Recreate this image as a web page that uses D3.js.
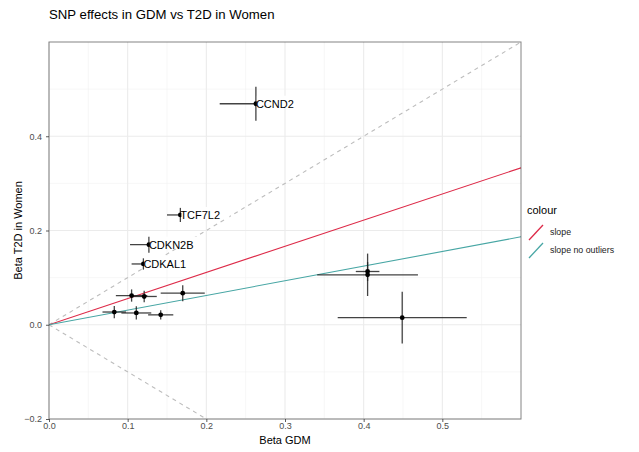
<!DOCTYPE html>
<html>
<head>
<meta charset="utf-8">
<script src="https://cdn.jsdelivr.net/npm/d3@7"></script>
<style>
  body { margin: 0; background: #fff; }
  text { font-family: "Liberation Sans", Arial, sans-serif; }
</style>
</head>
<body>
<svg id="chart"></svg>
<script>
(() => {
// SNP estimates (beta GDM, beta T2D in women) with standard errors
let genes  = ['CCND2', 'TCF7L2', 'CDKN2B', 'CDKAL1', '', '', '', '', '', '', '', '', ''];
let betaX  = [0.263, 0.167, 0.127, 0.120, 0.105, 0.121, 0.170, 0.083, 0.111, 0.142, 0.405, 0.405, 0.449];
let seX    = [0.046, 0.017, 0.024, 0.015, 0.020, 0.016, 0.028, 0.015, 0.019, 0.016, 0.015, 0.064, 0.082];
let betaY  = [0.469, 0.233, 0.170, 0.129, 0.062, 0.060, 0.067, 0.027, 0.025, 0.021, 0.113, 0.106, 0.015];
let seY    = [0.036, 0.015, 0.017, 0.012, 0.013, 0.012, 0.017, 0.013, 0.014, 0.010, 0.020, 0.045, 0.055];

let slopeNames  = ['slope', 'slope no outliers'];
let slopeValues = [0.555, 0.311];
let slopeColors = ['#dd2a48', '#47a6a4'];

let xTicks = [0, 0.1, 0.2, 0.3, 0.4, 0.5];
let yTicks = [-0.2, 0, 0.2, 0.4];

let svgWidth = 639,
    svgHeight = 452,
    left = 49, right = 521, top = 42, bottom = 419;

let svg = d3.select('#chart')
    .attr('width', svgWidth)
    .attr('height', svgHeight);

let xScale = d3.scaleLinear().domain([0, 0.6]).range([left, right]);
let yScale = d3.scaleLinear().domain([-0.2, 0.6]).range([bottom, top]);

svg.append('clipPath').attr('id', 'panel')
  .append('rect')
    .attr('x', left).attr('y', top)
    .attr('width', right - left).attr('height', bottom - top);

// grid
let grid = svg.append('g');
d3.range(0.05, 0.6, 0.1).forEach(v => grid.append('line')
    .attr('x1', xScale(v)).attr('x2', xScale(v)).attr('y1', top).attr('y2', bottom)
    .attr('stroke', '#f2f2f2').attr('stroke-width', 0.6));
[-0.1, 0.1, 0.3, 0.5].forEach(v => grid.append('line')
    .attr('y1', yScale(v)).attr('y2', yScale(v)).attr('x1', left).attr('x2', right)
    .attr('stroke', '#f2f2f2').attr('stroke-width', 0.6));
xTicks.forEach(v => grid.append('line')
    .attr('x1', xScale(v)).attr('x2', xScale(v)).attr('y1', top).attr('y2', bottom)
    .attr('stroke', '#ebebeb').attr('stroke-width', 1.1));
yTicks.forEach(v => grid.append('line')
    .attr('y1', yScale(v)).attr('y2', yScale(v)).attr('x1', left).attr('x2', right)
    .attr('stroke', '#ebebeb').attr('stroke-width', 1.1));

let panel = svg.append('g').attr('clip-path', 'url(#panel)');

// reference lines y = x and y = -x
[1, -1].forEach(s => panel.append('line')
    .attr('x1', xScale(0)).attr('y1', yScale(0))
    .attr('x2', xScale(0.6)).attr('y2', yScale(0.6 * s))
    .attr('stroke', '#bdbdbd').attr('stroke-width', 1.1)
    .attr('stroke-dasharray', '4,4'));

// slope lines
slopeValues.forEach((b, i) => panel.append('line')
    .attr('x1', xScale(0)).attr('y1', yScale(0))
    .attr('x2', xScale(0.6)).attr('y2', yScale(0.6 * b))
    .attr('stroke', slopeColors[i]).attr('stroke-width', 1.1));

let idx = d3.range(betaX.length);

// error bars
panel.selectAll('.hbar').data(idx).enter().append('line')
    .attr('x1', i => xScale(betaX[i] - seX[i])).attr('x2', i => xScale(betaX[i] + seX[i]))
    .attr('y1', i => yScale(betaY[i])).attr('y2', i => yScale(betaY[i]))
    .attr('stroke', '#222').attr('stroke-opacity', 0.85).attr('stroke-width', 1.3);
panel.selectAll('.vbar').data(idx).enter().append('line')
    .attr('x1', i => xScale(betaX[i])).attr('x2', i => xScale(betaX[i]))
    .attr('y1', i => yScale(betaY[i] - seY[i])).attr('y2', i => yScale(betaY[i] + seY[i]))
    .attr('stroke', '#222').attr('stroke-opacity', 0.85).attr('stroke-width', 1.3);

panel.selectAll('circle').data(idx).enter().append('circle')
    .attr('cx', i => xScale(betaX[i])).attr('cy', i => yScale(betaY[i]))
    .attr('r', 2.4).attr('fill', '#000');

// labels with white box
let labelled = idx.filter(i => genes[i]);
let lab = panel.selectAll('.lab').data(labelled).enter().append('g');
lab.append('rect')
    .attr('x', i => xScale(betaX[i]) + 1)
    .attr('y', i => yScale(betaY[i]) - 8)
    .attr('width', i => genes[i].length * 8)
    .attr('height', 12)
    .attr('fill', '#fff');
lab.append('text')
    .attr('x', i => xScale(betaX[i]))
    .attr('y', i => yScale(betaY[i]) + 1)
    .attr('font-size', 11)
    .attr('fill', '#000')
    .attr('dominant-baseline', 'middle')
    .text(i => genes[i]);

// panel border
svg.append('rect')
    .attr('x', left).attr('y', top)
    .attr('width', right - left).attr('height', bottom - top)
    .attr('fill', 'none').attr('stroke', '#333').attr('stroke-opacity', 0.6);

// axes
let xAxis = svg.append('g')
    .attr('transform', `translate(0,${bottom})`)
    .call(d3.axisBottom(xScale).tickValues(xTicks).tickFormat(d3.format('.1f')).tickSize(3));
let yAxis = svg.append('g')
    .attr('transform', `translate(${left},0)`)
    .call(d3.axisLeft(yScale).tickValues(yTicks).tickFormat(d3.format('.1f')).tickSize(3));
[xAxis, yAxis].forEach(a => {
  a.select('.domain').remove();
  a.selectAll('.tick line').attr('stroke', '#333').attr('stroke-opacity', 0.8);
  a.selectAll('.tick text').attr('fill', '#4d4d4d').attr('font-size', 9)
    .attr('font-family', '"Liberation Sans", Arial, sans-serif');
});
xAxis.selectAll('.tick text').attr('y', 4);
yAxis.selectAll('.tick text').attr('dx', '-0.1em');

svg.append('text')
    .attr('x', (left + right) / 2).attr('y', 444)
    .attr('text-anchor', 'middle').attr('font-size', 11)
    .text('Beta GDM');
svg.append('text')
    .attr('transform', `translate(22,${(top + bottom) / 2}) rotate(-90)`)
    .attr('text-anchor', 'middle').attr('font-size', 11)
    .text('Beta T2D in Women');

svg.append('text')
    .attr('x', left).attr('y', 19)
    .attr('font-size', 13.2)
    .text('SNP effects in GDM vs T2D in Women');

// legend
let legend = svg.append('g').attr('transform', 'translate(527,0)');
legend.append('text').attr('x', 0).attr('y', 214).attr('font-size', 11).text('colour');
slopeNames.forEach((n, i) => {
  let cy = 232 + i * 18;
  legend.append('line')
    .attr('x1', 2).attr('y1', cy + 8).attr('x2', 16).attr('y2', cy - 7)
    .attr('stroke', slopeColors[i]).attr('stroke-width', 1.3);
  legend.append('text')
    .attr('x', 23).attr('y', cy + 3).attr('font-size', 8.8).attr('fill', '#222')
    .text(n);
});
})();
</script>
</body>
</html>
